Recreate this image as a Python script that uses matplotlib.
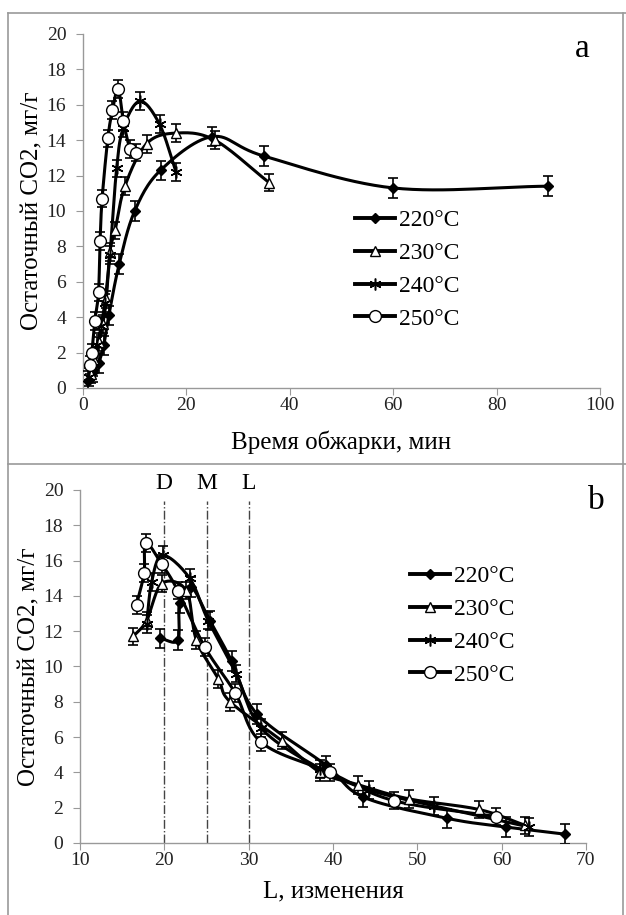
import numpy as np
import matplotlib
matplotlib.use("Agg")
import matplotlib.pyplot as plt
from matplotlib.lines import Line2D

plt.rcParams['font.family'] = ['Liberation Serif', 'DejaVu Serif']

# ---- panel a: residual CO2 vs roasting time
time_220 = [1, 2, 3, 4, 5, 7, 10, 15, 25, 35, 60, 90]
co2_220 = [0.4, 0.9, 1.4, 2.4, 4.1, 7.0, 10.0, 12.3, 14.2, 13.1, 11.3, 11.4]
time_230 = [1.5, 2.2, 3.0, 3.8, 4.5, 5.2, 6.2, 8.1, 12.3, 18, 25.5, 36]
co2_230 = [0.8, 1.6, 2.6, 3.6, 5.0, 7.7, 8.9, 11.4, 13.8, 14.4, 14.0, 11.6]
time_240 = [1.2, 2.0, 2.8, 3.5, 4.2, 5.2, 6.5, 7.8, 11, 14.8, 18]
co2_240 = [0.6, 1.2, 2.4, 3.5, 4.8, 7.5, 12.4, 14.7, 16.2, 14.9, 12.2]
time_250 = [1.3, 1.7, 2.3, 3.0, 3.3, 3.7, 4.8, 5.7, 6.8, 7.8, 9.1, 10.2]
co2_250 = [1.3, 2.0, 3.8, 5.4, 8.3, 10.7, 14.1, 15.7, 16.9, 15.1, 13.5, 13.3]

# ---- panel b: residual CO2 vs L
L_220 = [67.5, 60.5, 53.5, 43.6, 39.2, 31.0, 28.0, 25.4, 23.2, 21.8, 21.6, 19.5]
b_220 = [0.5, 0.9, 1.4, 2.6, 4.4, 7.3, 10.3, 12.6, 14.5, 13.6, 11.5, 11.6]
L_230 = [62.8, 57.3, 49.0, 43.0, 38.5, 33.9, 27.8, 26.4, 23.8, 22.6, 19.7, 17.9, 16.3]
b_230 = [1.0, 1.9, 2.5, 3.3, 4.0, 5.8, 8.0, 9.3, 11.5, 14.3, 14.7, 12.6, 11.7]
L_240 = [63.3, 52.0, 44.3, 38.5, 31.5, 28.5, 25.2, 23.0, 19.8, 18.5, 17.9]
b_240 = [0.9, 2.1, 3.0, 4.2, 6.5, 9.6, 12.6, 15.0, 16.3, 14.8, 12.4]
L_250 = [59.3, 47.2, 39.6, 31.5, 28.4, 24.8, 21.6, 19.7, 17.8, 17.6, 16.7]
b_250 = [1.5, 2.4, 4.0, 5.7, 8.5, 11.1, 14.3, 15.8, 17.0, 15.3, 13.5]

labels = ['220°C', '230°C', '240°C', '250°C']
errs = [0.55, 0.5, 0.5, 0.5]
markers = [
    dict(marker='D', markersize=5.5, mfc='black', mec='black'),
    dict(marker='^', markersize=7.5, mfc='white', mec='black', mew=1.0),
    dict(marker=(6, 2, 0), markersize=8.5, mfc='black', mec='black', mew=1.1),
    dict(marker='o', markersize=8.5, mfc='white', mec='black', mew=1.0),
]


def smooth(x, y, n=16):
    # Catmull-Rom style curve through the points (like Excel smoothed lines)
    x = np.asarray(x, float)
    y = np.asarray(y, float)
    px = np.concatenate([[2 * x[0] - x[1]], x, [2 * x[-1] - x[-2]]])
    py = np.concatenate([[2 * y[0] - y[1]], y, [2 * y[-1] - y[-2]]])
    t = np.linspace(0, 1, n)
    xs, ys = [], []
    for i in range(1, len(px) - 2):
        for p, out in ((px, xs), (py, ys)):
            p0, p1, p2, p3 = p[i - 1], p[i], p[i + 1], p[i + 2]
            b1 = p1 + (p2 - p0) / 6
            b2 = p2 - (p3 - p1) / 6
            out.extend((1 - t) ** 3 * p1 + 3 * (1 - t) ** 2 * t * b1
                       + 3 * (1 - t) * t ** 2 * b2 + t ** 3 * p2)
    return xs, ys


def style_axes(ax, xlim, xticks):
    ax.set_xlim(*xlim)
    ax.set_ylim(0, 20)
    ax.set_xticks(xticks)
    ax.set_yticks(range(0, 21, 2))
    for s in ['top', 'right']:
        ax.spines[s].set_visible(False)
    for s in ['left', 'bottom']:
        ax.spines[s].set_color('#999999')
        ax.spines[s].set_linewidth(1.0)
    ax.tick_params(direction='out', length=5, color='#999999', labelsize=14,
                   labelcolor='#222222')
    ax.tick_params(axis='y', pad=7)
    ax.tick_params(axis='x', pad=1.5)
    ax.set_ylabel('Остаточный CO2, мг/г', fontsize=18, labelpad=2)


def draw_series(ax, series):
    for (x, y), lab, err, mk in zip(series, labels, errs, markers):
        sx, sy = smooth(x, y)
        ax.plot(sx, sy, color='black', lw=2.2, zorder=2)
        ax.errorbar(x, y, yerr=err, fmt='none', ecolor='black', elinewidth=1.2,
                    capsize=3.5, capthick=1.2, zorder=3)
        ax.plot(x, y, linestyle='none', zorder=4, **mk)


def legend(ax, anchor):
    handles = [Line2D([0], [0], color='black', lw=2.8, **mk) for mk in markers]
    ax.legend(handles, labels, loc='upper left', bbox_to_anchor=anchor,
              frameon=False, fontsize=17, handlelength=1.7, handletextpad=0.15,
              labelspacing=0.48, borderaxespad=0, borderpad=0)


fig = plt.figure(figsize=(6.26, 9.15), dpi=100)

ax1 = fig.add_axes([0.1326, 0.5760, 0.826, 0.3869])
style_axes(ax1, (0, 100), range(0, 101, 20))
draw_series(ax1, [(time_220, co2_220), (time_230, co2_230),
                  (time_240, co2_240), (time_250, co2_250)])
ax1.set_xlabel('Время обжарки, мин', fontsize=18, labelpad=12)
legend(ax1, (0.526, 0.504))
ax1.text(0.965, 1.0, 'a', transform=ax1.transAxes, fontsize=24,
         ha='center', va='top')

ax2 = fig.add_axes([0.1278, 0.0787, 0.8083, 0.3858])
style_axes(ax2, (10, 70), range(10, 71, 10))
for xv, name in zip([20, 25, 30], ['D', 'M', 'L']):
    ax2.plot([xv, xv], [0, 19.4], color='#444444', lw=1.0, ls='-.', zorder=1)
    ax2.text(xv, 20.35, name, ha='center', va='center', fontsize=17)
draw_series(ax2, [(L_220, b_220), (L_230, b_230),
                  (L_240, b_240), (L_250, b_250)])
ax2.set_xlabel('L, изменения', fontsize=18, labelpad=8)
legend(ax2, (0.652, 0.786))
ax2.text(1.02, 1.014, 'b', transform=ax2.transAxes, fontsize=24,
         ha='center', va='top')

# panel frames
W, H = 626.0, 915.0
frame = dict(color='#9a9a9a', lw=1.2, transform=fig.transFigure)
fig.add_artist(Line2D([8 / W, 8 / W], [0, 1 - 13 / H], **frame))
fig.add_artist(Line2D([8 / W, 1], [1 - 13 / H, 1 - 13 / H], **frame))
fig.add_artist(Line2D([8 / W, 1], [1 - 464 / H, 1 - 464 / H], **frame))
fig.add_artist(Line2D([623 / W, 623 / W], [0, 1 - 13 / H], **frame))

fig.savefig('out.png', dpi=100)
